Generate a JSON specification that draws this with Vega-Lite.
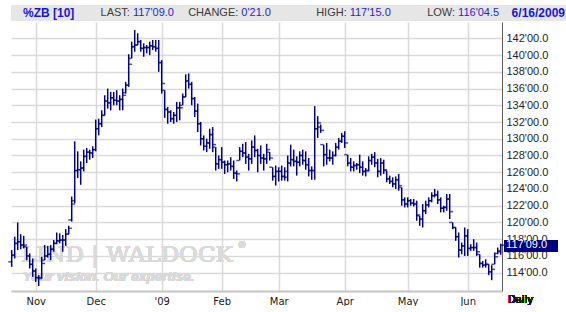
{
  "$schema": "https://vega.github.io/schema/vega-lite/v6.json",
  "background": "white",
  "padding": {"left": 0, "top": 5, "right": 0, "bottom": 0},
  "spacing": 1,
  "config": {"view": {"stroke": null}, "font": "Liberation Sans"},
  "datasets": {
    "header": [
      {"k": "sym", "label": "", "value": "%ZB [10]"},
      {"k": "last", "label": "LAST:", "value": "117'09.0"},
      {"k": "change", "label": "CHANGE:", "value": "0'21.0"},
      {"k": "high", "label": "HIGH:", "value": "117'15.0"},
      {"k": "low", "label": "LOW:", "value": "116'04.5"},
      {"k": "date", "label": "", "value": "6/16/2009"}
    ],
    "ohlc": [
      {"i":-8,"o":115.3,"h":116.7,"l":114.7,"c":116.1},
      {"i":-7,"o":116.1,"h":118.3,"l":115.7,"c":117.5},
      {"i":-6,"o":117.5,"h":120.0,"l":116.7,"c":117.7},
      {"i":-5,"o":117.7,"h":118.6,"l":116.8,"c":117.3},
      {"i":-4,"o":117.3,"h":118.4,"l":116.9,"c":117.3},
      {"i":-3,"o":117.1,"h":117.1,"l":115.5,"c":116.0},
      {"i":-2,"o":116.0,"h":116.3,"l":114.5,"c":115.0},
      {"i":-1,"o":115.0,"h":115.7,"l":113.5,"c":114.2},
      {"i":0,"o":114.2,"h":114.5,"l":112.9,"c":113.4},
      {"i":1,"o":113.4,"h":113.7,"l":112.4,"c":113.3},
      {"i":2,"o":113.4,"h":115.9,"l":113.3,"c":115.1},
      {"i":3,"o":115.5,"h":117.3,"l":115.5,"c":116.0},
      {"i":4,"o":116.0,"h":117.2,"l":115.8,"c":116.2},
      {"i":5,"o":116.2,"h":117.3,"l":115.5,"c":116.8},
      {"i":6,"o":116.8,"h":117.9,"l":116.5,"c":117.5},
      {"i":7,"o":117.5,"h":118.8,"l":117.4,"c":117.8},
      {"i":8,"o":117.8,"h":118.7,"l":117.5,"c":117.9},
      {"i":9,"o":117.9,"h":118.5,"l":116.5,"c":117.9},
      {"i":10,"o":117.9,"h":119.2,"l":117.2,"c":118.6},
      {"i":11,"o":118.6,"h":119.6,"l":118.6,"c":119.3},
      {"i":12,"o":120.3,"h":123.1,"l":120.1,"c":122.2},
      {"i":13,"o":122.6,"h":129.7,"l":122.3,"c":126.2},
      {"i":14,"o":126.2,"h":128.5,"l":125.3,"c":126.3},
      {"i":15,"o":126.3,"h":127.3,"l":124.5,"c":126.5},
      {"i":16,"o":126.5,"h":128.7,"l":126.1,"c":127.9},
      {"i":17,"o":127.9,"h":128.9,"l":127.1,"c":128.4},
      {"i":18,"o":128.4,"h":128.7,"l":127.5,"c":128.3},
      {"i":19,"o":128.3,"h":129.1,"l":127.7,"c":128.7},
      {"i":20,"o":128.7,"h":132.3,"l":128.5,"c":131.2},
      {"i":21,"o":131.2,"h":132.4,"l":130.4,"c":131.8},
      {"i":22,"o":131.8,"h":133.4,"l":131.4,"c":132.8},
      {"i":23,"o":132.8,"h":135.2,"l":132.8,"c":134.5},
      {"i":24,"o":134.5,"h":136.0,"l":133.6,"c":134.3},
      {"i":25,"o":134.3,"h":135.6,"l":133.4,"c":134.9},
      {"i":26,"o":134.9,"h":135.6,"l":134.0,"c":134.6},
      {"i":27,"o":134.6,"h":135.8,"l":134.0,"c":134.5},
      {"i":28,"o":134.5,"h":135.2,"l":133.4,"c":134.7},
      {"i":29,"o":134.7,"h":136.0,"l":133.4,"c":135.2},
      {"i":30,"o":135.5,"h":136.8,"l":135.4,"c":136.4},
      {"i":31,"o":136.4,"h":140.1,"l":136.2,"c":138.9},
      {"i":32,"o":139.6,"h":141.6,"l":139.6,"c":141.0},
      {"i":33,"o":141.0,"h":143.0,"l":140.4,"c":141.2},
      {"i":34,"o":141.2,"h":142.6,"l":141.2,"c":141.6},
      {"i":35,"o":141.6,"h":141.8,"l":140.4,"c":140.8},
      {"i":36,"o":140.8,"h":141.4,"l":139.8,"c":140.9},
      {"i":37,"o":140.9,"h":141.2,"l":140.2,"c":140.9},
      {"i":38,"o":140.9,"h":141.6,"l":140.0,"c":141.1},
      {"i":39,"o":141.1,"h":141.8,"l":140.6,"c":141.0},
      {"i":40,"o":141.0,"h":141.8,"l":140.4,"c":140.8},
      {"i":41,"o":140.8,"h":141.8,"l":138.0,"c":139.1},
      {"i":42,"o":139.1,"h":139.4,"l":135.4,"c":136.6},
      {"i":43,"o":135.8,"h":135.8,"l":132.5,"c":133.5},
      {"i":44,"o":133.5,"h":133.8,"l":131.8,"c":133.2},
      {"i":45,"o":133.2,"h":133.4,"l":132.0,"c":132.4},
      {"i":46,"o":132.4,"h":133.2,"l":131.8,"c":132.8},
      {"i":47,"o":132.8,"h":134.4,"l":132.0,"c":133.7},
      {"i":48,"o":133.7,"h":134.4,"l":132.2,"c":133.7},
      {"i":49,"o":134.0,"h":135.4,"l":134.0,"c":135.0},
      {"i":50,"o":135.0,"h":137.7,"l":135.0,"c":136.9},
      {"i":51,"o":136.9,"h":137.8,"l":136.0,"c":136.5},
      {"i":52,"o":136.5,"h":136.8,"l":134.0,"c":134.8},
      {"i":53,"o":134.8,"h":135.0,"l":132.6,"c":133.3},
      {"i":54,"o":133.3,"h":134.2,"l":130.8,"c":131.8},
      {"i":55,"o":131.8,"h":132.0,"l":129.2,"c":130.0},
      {"i":56,"o":130.0,"h":130.4,"l":128.6,"c":129.1},
      {"i":57,"o":129.1,"h":130.0,"l":128.4,"c":129.5},
      {"i":58,"o":129.5,"h":131.2,"l":128.8,"c":130.5},
      {"i":59,"o":130.5,"h":131.4,"l":128.4,"c":129.3},
      {"i":60,"o":129.0,"h":129.0,"l":126.2,"c":127.0},
      {"i":61,"o":127.0,"h":128.0,"l":126.4,"c":127.5},
      {"i":62,"o":127.5,"h":129.0,"l":126.4,"c":127.2},
      {"i":63,"o":127.2,"h":127.4,"l":125.8,"c":126.9},
      {"i":64,"o":126.9,"h":127.4,"l":126.0,"c":127.0},
      {"i":65,"o":127.0,"h":127.8,"l":126.2,"c":126.7},
      {"i":66,"o":126.7,"h":127.4,"l":125.2,"c":125.9},
      {"i":67,"o":125.9,"h":126.2,"l":124.9,"c":125.8},
      {"i":68,"o":127.4,"h":129.0,"l":127.4,"c":128.5},
      {"i":69,"o":128.5,"h":129.4,"l":127.8,"c":128.3},
      {"i":70,"o":128.3,"h":129.6,"l":127.0,"c":127.8},
      {"i":71,"o":127.8,"h":128.2,"l":126.2,"c":127.6},
      {"i":72,"o":127.6,"h":129.8,"l":127.0,"c":129.0},
      {"i":73,"o":129.0,"h":130.4,"l":127.8,"c":128.6},
      {"i":74,"o":128.6,"h":128.8,"l":126.0,"c":128.0},
      {"i":75,"o":128.0,"h":129.2,"l":127.0,"c":127.7},
      {"i":76,"o":127.7,"h":128.2,"l":126.2,"c":127.6},
      {"i":77,"o":127.6,"h":129.4,"l":127.0,"c":128.7},
      {"i":78,"o":128.4,"h":128.4,"l":127.4,"c":127.7},
      {"i":79,"o":126.6,"h":126.6,"l":125.0,"c":125.5},
      {"i":80,"o":125.5,"h":126.8,"l":124.4,"c":126.1},
      {"i":81,"o":126.1,"h":126.6,"l":124.9,"c":126.1},
      {"i":82,"o":126.1,"h":126.8,"l":125.0,"c":125.5},
      {"i":83,"o":125.5,"h":126.6,"l":125.0,"c":126.1},
      {"i":84,"o":125.4,"h":128.0,"l":124.9,"c":127.1},
      {"i":85,"o":127.1,"h":129.3,"l":126.7,"c":127.5},
      {"i":86,"o":127.5,"h":128.7,"l":126.7,"c":127.3},
      {"i":87,"o":127.3,"h":127.9,"l":125.6,"c":127.2},
      {"i":88,"o":127.2,"h":128.5,"l":126.7,"c":128.0},
      {"i":89,"o":128.0,"h":128.7,"l":126.9,"c":127.4},
      {"i":90,"o":127.4,"h":128.5,"l":126.3,"c":126.9},
      {"i":91,"o":126.9,"h":127.7,"l":125.5,"c":126.2},
      {"i":92,"o":126.2,"h":126.7,"l":125.1,"c":126.2},
      {"i":93,"o":126.2,"h":133.9,"l":125.1,"c":131.2},
      {"i":94,"o":131.2,"h":132.7,"l":130.1,"c":131.9},
      {"i":95,"o":131.4,"h":131.7,"l":130.7,"c":131.0},
      {"i":96,"o":129.3,"h":129.3,"l":126.7,"c":128.1},
      {"i":97,"o":128.1,"h":129.5,"l":126.9,"c":127.7},
      {"i":98,"o":127.7,"h":128.7,"l":127.3,"c":127.7},
      {"i":99,"o":127.7,"h":128.5,"l":126.9,"c":128.0},
      {"i":100,"o":128.0,"h":129.5,"l":127.9,"c":129.0},
      {"i":101,"o":129.0,"h":130.1,"l":128.7,"c":129.7},
      {"i":102,"o":129.7,"h":130.7,"l":129.5,"c":130.3},
      {"i":103,"o":130.3,"h":130.9,"l":128.9,"c":129.5},
      {"i":104,"o":128.1,"h":128.1,"l":126.7,"c":127.1},
      {"i":105,"o":127.1,"h":127.7,"l":126.1,"c":126.6},
      {"i":106,"o":126.6,"h":127.3,"l":126.1,"c":126.8},
      {"i":107,"o":126.8,"h":127.1,"l":126.3,"c":126.9},
      {"i":108,"o":126.9,"h":128.1,"l":125.9,"c":126.6},
      {"i":109,"o":126.6,"h":127.3,"l":125.6,"c":126.1},
      {"i":110,"o":126.1,"h":126.5,"l":125.5,"c":126.2},
      {"i":111,"o":126.2,"h":127.9,"l":126.1,"c":127.4},
      {"i":112,"o":127.4,"h":128.2,"l":126.9,"c":127.8},
      {"i":113,"o":127.8,"h":128.4,"l":126.6,"c":127.1},
      {"i":114,"o":127.1,"h":127.6,"l":125.4,"c":126.1},
      {"i":115,"o":126.1,"h":127.7,"l":125.6,"c":127.1},
      {"i":116,"o":127.1,"h":127.5,"l":125.8,"c":126.3},
      {"i":117,"o":126.2,"h":126.2,"l":124.8,"c":125.2},
      {"i":118,"o":125.2,"h":125.6,"l":124.6,"c":124.9},
      {"i":119,"o":124.9,"h":125.4,"l":124.2,"c":124.6},
      {"i":120,"o":124.6,"h":125.5,"l":124.0,"c":125.1},
      {"i":121,"o":125.1,"h":125.8,"l":123.8,"c":124.4},
      {"i":122,"o":124.2,"h":124.2,"l":122.0,"c":122.7},
      {"i":123,"o":122.7,"h":123.0,"l":121.8,"c":122.2},
      {"i":124,"o":122.2,"h":123.0,"l":121.8,"c":122.6},
      {"i":125,"o":122.6,"h":122.8,"l":122.0,"c":122.3},
      {"i":126,"o":122.3,"h":122.8,"l":121.9,"c":122.2},
      {"i":127,"o":122.2,"h":122.6,"l":120.2,"c":120.9},
      {"i":128,"o":120.8,"h":120.8,"l":119.6,"c":120.4},
      {"i":129,"o":120.4,"h":122.2,"l":119.4,"c":121.4},
      {"i":130,"o":121.4,"h":122.6,"l":121.0,"c":122.1},
      {"i":131,"o":122.1,"h":123.0,"l":121.8,"c":122.6},
      {"i":132,"o":122.6,"h":123.6,"l":122.4,"c":123.2},
      {"i":133,"o":123.2,"h":124.0,"l":123.0,"c":123.3},
      {"i":134,"o":123.3,"h":123.8,"l":122.2,"c":122.7},
      {"i":135,"o":122.7,"h":123.0,"l":121.2,"c":121.7},
      {"i":136,"o":121.7,"h":122.0,"l":121.2,"c":121.8},
      {"i":137,"o":121.8,"h":123.4,"l":121.4,"c":122.8},
      {"i":138,"o":122.8,"h":123.4,"l":120.4,"c":121.3},
      {"i":139,"o":120.0,"h":120.0,"l":119.2,"c":119.4},
      {"i":140,"o":119.4,"h":119.4,"l":117.8,"c":118.3},
      {"i":141,"o":118.3,"h":118.8,"l":115.8,"c":116.7},
      {"i":142,"o":116.7,"h":117.6,"l":116.2,"c":117.2},
      {"i":143,"o":117.2,"h":119.4,"l":116.0,"c":118.4},
      {"i":144,"o":118.4,"h":119.2,"l":116.0,"c":116.9},
      {"i":145,"o":116.9,"h":117.4,"l":116.6,"c":117.0},
      {"i":146,"o":117.0,"h":118.0,"l":116.6,"c":117.0},
      {"i":147,"o":117.0,"h":117.6,"l":116.0,"c":116.5},
      {"i":148,"o":116.2,"h":116.2,"l":114.6,"c":115.1},
      {"i":149,"o":115.1,"h":115.4,"l":114.6,"c":114.9},
      {"i":150,"o":114.9,"h":115.6,"l":114.6,"c":115.0},
      {"i":151,"o":115.0,"h":115.0,"l":113.7,"c":114.1},
      {"i":152,"o":114.1,"h":114.9,"l":113.1,"c":114.4},
      {"i":153,"o":115.0,"h":116.4,"l":115.0,"c":115.9},
      {"i":154,"o":116.3,"h":117.0,"l":116.2,"c":116.62},
      {"i":155,"o":116.5,"h":117.47,"l":116.14,"c":117.28}
    ]
  },
  "vconcat": [
    {
      "width": 560,
      "height": 16,
      "view": {"fill": "#e6e6e6", "stroke": null},
      "data": {"name": "header"},
      "encoding": {
        "x": {"field": "k", "type": "nominal", "axis": null,
              "scale": {"type": "point", "domain": ["sym", "last", "change", "high", "low", "date"], "padding": 0.083, "align": 0.667}}
      },
      "layer": [
        {"transform": [{"filter": "datum.k === 'sym'"}],
         "mark": {"type": "text", "align": "left", "baseline": "middle", "font": "Liberation Sans", "fontSize": 12, "fontWeight": "bold", "color": "#1616d8"},
         "encoding": {"text": {"field": "value"}}},
        {"transform": [{"filter": "datum.k === 'date'"}],
         "mark": {"type": "text", "align": "right", "baseline": "middle", "font": "Liberation Sans", "fontSize": 12, "fontWeight": "bold", "color": "#1616d8"},
         "encoding": {"text": {"field": "value"}}},
        {"transform": [{"filter": "datum.label !== ''"}],
         "mark": {"type": "text", "align": "right", "baseline": "middle", "dx": -1.5, "font": "Liberation Sans", "fontSize": 11, "color": "#3a3a3a"},
         "encoding": {"text": {"field": "label"}}},
        {"transform": [{"filter": "datum.label !== ''"}],
         "mark": {"type": "text", "align": "left", "baseline": "middle", "dx": 1.5, "font": "Liberation Sans", "fontSize": 11, "color": "#2626cc"},
         "encoding": {"text": {"field": "value"}}}
      ]
    },
    {
      "width": 491,
      "height": 269,
      "data": {"name": "ohlc"},
      "resolve": {"axis": {"y": "independent"}},
      "encoding": {
        "x": {"field": "i", "type": "quantitative",
              "scale": {"domain": [-8.233, 155.433], "nice": false, "zero": false},
              "axis": {"orient": "bottom", "values": [0, 20, 42, 62, 81, 103, 124, 144],
                       "labelExpr": "datum.value == 0 ? 'Nov' : datum.value == 20 ? 'Dec' : datum.value == 42 ? \"'09\" : datum.value == 62 ? 'Feb' : datum.value == 81 ? 'Mar' : datum.value == 103 ? 'Apr' : datum.value == 124 ? 'May' : 'Jun'",
                       "grid": true, "gridColor": "#d9d9d9", "gridWidth": 1.5,
                       "ticks": false, "domain": true, "domainColor": "#c4c4c4", "domainWidth": 2,
                       "labelFont": "DejaVu Sans", "labelFontSize": 10, "labelColor": "#1a1a1a",
                       "labelPadding": 5, "labelFlush": false, "title": null}}
      },
      "layer": [
        {"mark": {"type": "text", "align": "left", "baseline": "alphabetic", "font": "DejaVu Serif", "fontSize": 23, "color": "#dadada"},
         "encoding": {
           "x": {"datum": -4.9, "type": "quantitative", "scale": {"domain": [-8.233, 155.433], "nice": false, "zero": false}},
           "y": {"datum": 115.3, "type": "quantitative", "scale": {"domain": [111.81, 143.95], "nice": false, "zero": false}, "axis": null},
           "text": {"value": "LIND | WALDOCK"}}},
        {"mark": {"type": "text", "align": "left", "baseline": "middle", "font": "DejaVu Sans", "fontSize": 9, "color": "#dadada"},
         "encoding": {
           "x": {"datum": 67.3, "type": "quantitative", "scale": {"domain": [-8.233, 155.433], "nice": false, "zero": false}},
           "y": {"datum": 117.3, "type": "quantitative", "scale": {"domain": [111.81, 143.95], "nice": false, "zero": false}, "axis": null},
           "text": {"value": "®"}}},
        {"mark": {"type": "text", "align": "left", "baseline": "middle", "font": "Liberation Sans", "fontSize": 13.5, "fontStyle": "italic", "fontWeight": "bold", "color": "#d9d9d9"},
         "encoding": {
           "x": {"datum": -4.2, "type": "quantitative", "scale": {"domain": [-8.233, 155.433], "nice": false, "zero": false}},
           "y": {"datum": 113.5, "type": "quantitative", "scale": {"domain": [111.81, 143.95], "nice": false, "zero": false}, "axis": null},
           "text": {"value": "Your vision. Our expertise."}}},
        {"mark": {"type": "rule", "color": "#000080", "strokeWidth": 1.5},
         "encoding": {
           "y": {"field": "l", "type": "quantitative",
                 "scale": {"domain": [111.81, 143.95], "nice": false, "zero": false},
                 "axis": {"orient": "right", "values": [114, 116, 118, 120, 122, 124, 126, 128, 130, 132, 134, 136, 138, 140, 142],
                          "labelExpr": "format(datum.value, 'd') + \"'00.0\"",
                          "grid": true, "gridColor": "#d9d9d9", "gridWidth": 1.5,
                          "ticks": false, "domain": true, "domainColor": "#5a5a5a", "domainWidth": 1,
                          "labelFont": "Liberation Sans", "labelFontSize": 11, "labelColor": "#222222",
                          "labelPadding": 4, "labelFlush": false, "title": null}},
           "y2": {"field": "h"}}},
        {"mark": {"type": "tick", "orient": "horizontal", "color": "#000080", "size": 3, "thickness": 1.5, "xOffset": -1.9},
         "encoding": {
           "y": {"field": "o", "type": "quantitative",
                 "scale": {"domain": [111.81, 143.95], "nice": false, "zero": false},
                 "axis": {"orient": "left", "labels": false, "domain": false, "grid": false, "ticks": true, "tickSize": 10, "tickColor": "#ffffff", "values": [130], "title": null}}}},
        {"mark": {"type": "tick", "orient": "horizontal", "color": "#000080", "size": 3, "thickness": 1.5, "xOffset": 1.9},
         "encoding": {
           "y": {"field": "c", "type": "quantitative",
                 "scale": {"domain": [111.81, 143.95], "nice": false, "zero": false}, "axis": null}}},
        {"mark": {"type": "rect", "color": "#000080"},
         "encoding": {
           "x": {"datum": 156.1, "type": "quantitative", "scale": {"domain": [-8.233, 155.433], "nice": false, "zero": false}},
           "x2": {"datum": 174.1},
           "y": {"datum": 117.9, "type": "quantitative", "scale": {"domain": [111.81, 143.95], "nice": false, "zero": false}, "axis": null},
           "y2": {"datum": 116.5}}},
        {"transform": [{"filter": "datum.i == 155"}],
         "mark": {"type": "text", "align": "left", "baseline": "middle", "font": "Liberation Sans", "fontSize": 11, "color": "#ffffff"},
         "encoding": {
           "x": {"datum": 156.8, "type": "quantitative", "scale": {"domain": [-8.233, 155.433], "nice": false, "zero": false}},
           "y": {"field": "c", "type": "quantitative", "scale": {"domain": [111.81, 143.95], "nice": false, "zero": false}, "axis": null},
           "text": {"value": "117'09.0"}}},
        {"mark": {"type": "text", "align": "left", "baseline": "middle", "font": "DejaVu Sans", "fontSize": 10, "color": "#1a1a1a"},
         "encoding": {
           "x": {"datum": 157.4, "type": "quantitative", "scale": {"domain": [-8.233, 155.433], "nice": false, "zero": false}},
           "y": {"datum": 110.7, "type": "quantitative", "scale": {"domain": [111.81, 143.95], "nice": false, "zero": false}, "axis": null},
           "text": {"value": "Daily"}}}
      ]
    }
  ]
}
